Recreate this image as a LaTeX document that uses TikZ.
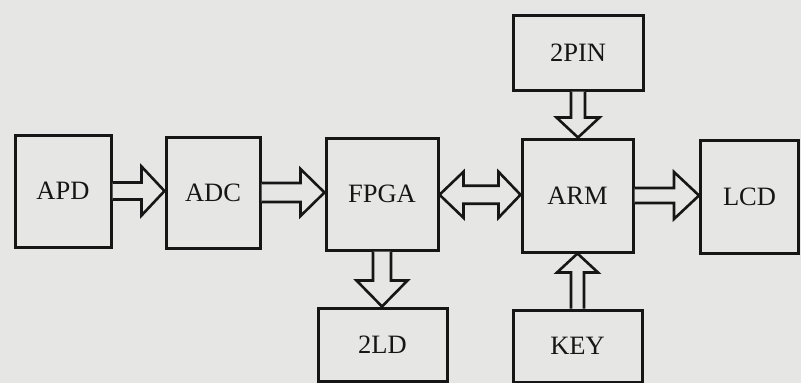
\documentclass[tikz,border=0pt]{standalone}
\usepackage{fontspec}
\setmainfont{Liberation Serif}
\usetikzlibrary{calc}
\definecolor{paper}{RGB}{230,230,228}
\definecolor{ink}{RGB}{22,22,22}
\tikzset{
  blk/.style={draw=ink, line width=3pt, inner sep=0pt, text=ink,
    font=\fontsize{26.5}{30}\selectfont},
  blockarrow/.style={draw=ink, fill=paper, line width=2.6pt, line join=miter}
}
% right arrow: #1 source, #2 target, #3 shaft half, #4 head half, #5 head length
\newcommand\rightfat[5]{%
  \draw[blockarrow] let \p1=(#1.east), \p2=(#2.west), \p3=(#1.center) in
   (\x1,\y3+#3pt) -- (\x2-#5pt,\y3+#3pt) -- (\x2-#5pt,\y3+#4pt) -- (\x2,\y3)
   -- (\x2-#5pt,\y3-#4pt) -- (\x2-#5pt,\y3-#3pt) -- (\x1,\y3-#3pt);}
% down arrow
\newcommand\downfat[5]{%
  \draw[blockarrow] let \p1=(#1.south), \p2=(#2.north), \p3=(#1.center) in
   (\x3-#3pt,\y1) -- (\x3-#3pt,\y2+#5pt) -- (\x3-#4pt,\y2+#5pt) -- (\x3,\y2)
   -- (\x3+#4pt,\y2+#5pt) -- (\x3+#3pt,\y2+#5pt) -- (\x3+#3pt,\y1);}
% up arrow
\newcommand\upfat[5]{%
  \draw[blockarrow] let \p1=(#1.north), \p2=(#2.south), \p3=(#1.center) in
   (\x3-#3pt,\y1) -- (\x3-#3pt,\y2-#5pt) -- (\x3-#4pt,\y2-#5pt) -- (\x3,\y2)
   -- (\x3+#4pt,\y2-#5pt) -- (\x3+#3pt,\y2-#5pt) -- (\x3+#3pt,\y1);}
\begin{document}
\begin{tikzpicture}[x=1pt,y=-1pt]
\fill[paper] (0,0) rectangle (801,383);
\useasboundingbox (0,0) rectangle (801,383);

\node[blk, minimum width=96pt, minimum height=112pt] (apd) at (63,191) {APD};
\node[blk, minimum width=94pt, minimum height=111pt] (adc) at (213,192.5) {ADC};
\node[blk, minimum width=112pt, minimum height=112pt] (fpga) at (382,194) {FPGA};
\node[blk, minimum width=111pt, minimum height=113pt] (arm) at (577.5,195.5) {ARM};
\node[blk, minimum width=98pt, minimum height=113pt] (lcd) at (749.5,196.5) {LCD};
\node[blk, minimum width=130pt, minimum height=75pt] (pin) at (578,52.5) {2PIN};
\node[blk, minimum width=129pt, minimum height=73pt] (ld) at (382.5,344.5) {2LD};
\node[blk, minimum width=129pt, minimum height=72pt] (key) at (577.5,346) {KEY};

\rightfat{apd}{adc}{8.5}{24.5}{23}
\rightfat{adc}{fpga}{9.5}{23.5}{24}
\rightfat{arm}{lcd}{7.5}{23.5}{25}
\downfat{pin}{arm}{7}{21.5}{20}
\downfat{fpga}{ld}{9}{25.5}{26}
\upfat{key}{arm}{6.5}{20.5}{19}

% double arrow FPGA <-> ARM
\draw[blockarrow] let \p1=(fpga.east), \p2=(arm.west), \p3=($(fpga.center)!0.5!(arm.center)$) in
  (\x1,\y3) -- (\x1+24pt,\y3+23pt) -- (\x1+24pt,\y3+9pt) -- (\x2-22pt,\y3+9pt)
  -- (\x2-22pt,\y3+23pt) -- (\x2,\y3) -- (\x2-22pt,\y3-23pt) -- (\x2-22pt,\y3-9pt)
  -- (\x1+24pt,\y3-9pt) -- (\x1+24pt,\y3-23pt) -- cycle;
\end{tikzpicture}
\end{document}
